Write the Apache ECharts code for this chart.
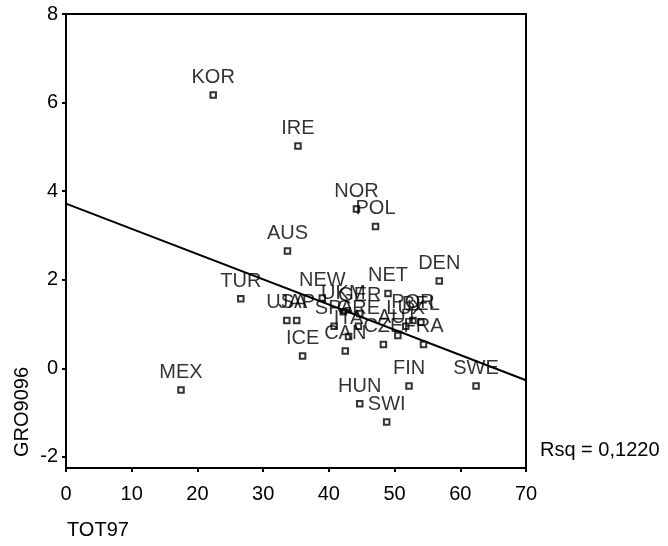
<!DOCTYPE html>
<html>
<head>
<meta charset="utf-8">
<script src="https://cdn.jsdelivr.net/npm/echarts@6/dist/echarts.min.js"></script>
<style>
  html, body { margin: 0; padding: 0; background: #fff; }
  #wrap { width: 668px; height: 546px; }
</style>
</head>
<body>
<div id="wrap"></div>
<script>
// 国家代码
var countries = ['KOR','IRE','NOR','POL','AUS','TUR','MEX','DEN','NET','SWE',
                 'FIN','HUN','SWI','ICE','CAN','FRA','USA','JAP','NEW','UKM',
                 'GER','SPA','GRE','CZE','ITA','AUT','LUX','POR','BEL'];
// TOT97 (x)
var tot97 = [22.4, 35.3, 44.2, 47.1, 33.7, 26.6, 17.5, 56.8, 49.0, 62.4,
             52.2, 44.7, 48.8, 36.0, 42.5, 54.4, 33.6, 35.1, 39.0, 42.2,
             44.7, 40.8, 44.5, 48.3, 43.0, 50.5, 51.7, 52.8, 54.0];
// GRO9096 (y)
var gro9096 = [6.17, 5.02, 3.60, 3.20, 2.65, 1.57, -0.49, 1.97, 1.69, -0.40,
               -0.40, -0.80, -1.21, 0.28, 0.39, 0.54, 1.08, 1.08, 1.59, 1.28,
               1.24, 0.95, 0.95, 0.54, 0.72, 0.74, 0.95, 1.08, 1.04];
// 回归线两端
var fitX = [0, 70];
var fitY = [3.72, -0.27];
var yTicks = [-2, 0, 2, 4, 6, 8];
var xRange = [0, 70];
var yRange = [-2.25, 8];

var font = 'Liberation Sans, Arial, sans-serif';
var txt = { color: '#000', fontSize: 20, fontFamily: font };

var points = countries.map(function (c, i) { return [tot97[i], gro9096[i], c]; });
var fitLine = fitX.map(function (x, i) { return [x, fitY[i]]; });

var myChart = echarts.init(document.getElementById('wrap'));

var option = {
    animation: false,
    grid: {
        left: 66, top: 14, width: 460, height: 454,
        show: true, borderColor: '#000', borderWidth: 2
    },
    xAxis: {
        type: 'value', min: xRange[0], max: xRange[1], interval: 10,
        axisLine: { show: true, onZero: false, lineStyle: { color: '#000', width: 2 } },
        axisTick: { show: true, inside: false, length: 4, lineStyle: { color: '#000', width: 2 } },
        axisLabel: Object.assign({ margin: 16 }, txt),
        splitLine: { show: false }
    },
    yAxis: {
        type: 'value', min: yRange[0], max: yRange[1],
        axisLine: { show: true, onZero: false, lineStyle: { color: '#000', width: 2 } },
        axisTick: { show: true, length: 4, customValues: yTicks, lineStyle: { color: '#000', width: 2 } },
        axisLabel: Object.assign({ margin: 8, customValues: yTicks }, txt),
        splitLine: { show: false }
    },
    series: [
        {
            type: 'line',
            data: fitLine,
            symbol: 'none',
            lineStyle: { color: '#000', width: 2 },
            z: 3
        },
        {
            type: 'scatter',
            data: points,
            symbol: 'rect',
            symbolSize: 5.5,
            itemStyle: { color: '#fff', borderColor: '#000', borderWidth: 2 },
            label: Object.assign({
                show: true,
                position: 'top',
                distance: 4,
                offset: [6, 0],
                formatter: function (p) { return p.data[2]; }
            }, txt),
            labelLayout: { hideOverlap: false },
            z: 4
        }
    ],
    graphic: [
        {
            type: 'text', x: 22, y: 412, rotation: Math.PI / 2,
            style: { text: 'GRO9096', fill: '#000', font: '20px ' + font, align: 'center', verticalAlign: 'middle' }
        },
        {
            type: 'text', x: 67, y: 530,
            style: { text: 'TOT97', fill: '#000', font: '20px ' + font, align: 'left', verticalAlign: 'middle' }
        },
        {
            type: 'text', x: 540, y: 450,
            style: { text: 'Rsq = 0,1220', fill: '#000', font: '20px ' + font, align: 'left', verticalAlign: 'middle' }
        }
    ]
};

myChart.setOption(option);
</script>
</body>
</html>
